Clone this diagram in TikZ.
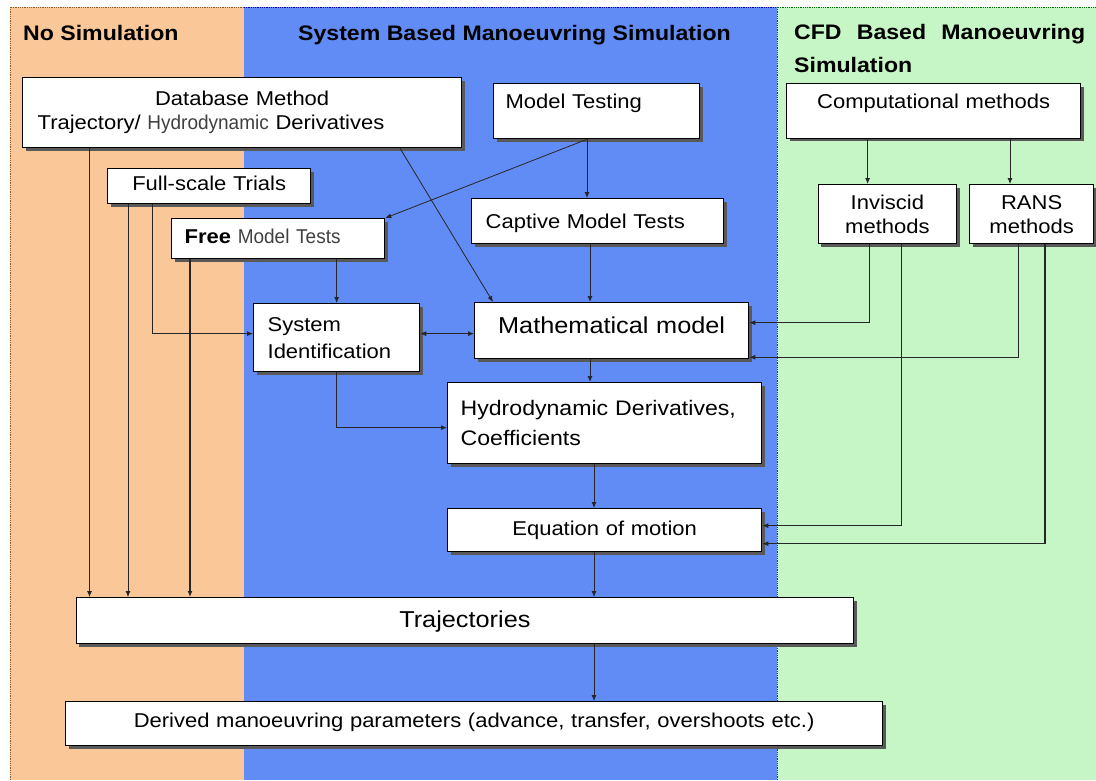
\documentclass[tikz,border=0pt]{standalone}
\usepackage{fontspec}
\setmainfont[FakeStretch=1.1]{Liberation Sans}
\newfontfamily\thinfont[FakeStretch=0.95]{Liberation Sans}
\usetikzlibrary{arrows.meta,shadows}

\definecolor{nosimcol}{RGB}{250,200,152}
\definecolor{syscol}{RGB}{98,140,245}
\definecolor{cfdcol}{RGB}{198,245,198}

\begin{document}
\begin{tikzpicture}[x=1pt, y=-1pt,
  >={Latex[length=6pt,width=5pt]},
  band/.style={line width=0.8pt, densely dotted},
  title/.style={anchor=base west, inner sep=0pt, font=\fontsize{21}{25}\selectfont\bfseries},
  box/.style={draw=black, line width=1.3pt, fill=white, anchor=north west, inner ysep=0pt,
    font=\fontsize{20}{24}\selectfont, drop shadow={shadow xshift=3pt, shadow yshift=-3pt, fill=black!65, opacity=1}},
  link/.style={line width=0.8pt, draw=black!85}]

\useasboundingbox (0,0) rectangle (1096,780);

% background bands
\fill[nosimcol] (10,7) rectangle (244,780);
\fill[syscol] (244,7) rectangle (777,780);
\fill[cfdcol] (777,7) rectangle (1096,780);
\draw[band, draw=brown!70!black] (10,780) -- (10,7) -- (244,7);
\draw[band, draw=blue!60!black] (244,7) -- (777,7);
\draw[band, draw=green!40!black] (777,780) -- (777,7) -- (1096,7);

\node[title] (nosim) at (23,40) {No Simulation};
\node[title] (sysbased) at (298,40) {System Based Manoeuvring Simulation};
\node[title] (cfdbased) at (794,39) {\makebox[291pt][s]{CFD Based Manoeuvring}};
\node[title] (cfdsim) at (794,72) {Simulation};

% boxes
\node[box, text width=409pt, inner xsep=15pt, minimum height=70pt, align=left] (database) at (22,77)
  {\makebox[409pt]{Database Method}\\Trajectory/ {\thinfont\color{black!75}Hydrodynamic} Derivatives};
\node[box, text width=182pt, inner xsep=12pt, text height=25pt, text depth=30pt, align=left] (modeltest) at (493,83) {Model Testing};
\node[box, text width=274pt, inner xsep=10pt, text height=25pt, text depth=29.5pt, align=center] (comp) at (786,83) {Computational methods};
\node[box, text width=193pt, inner xsep=5pt, text height=22pt, text depth=13pt, align=center] (fullscale) at (107,168) {Full-scale Trials};
\node[box, text width=187pt, inner xsep=13pt, text height=25pt, text depth=15pt, align=left] (free) at (171,218)
  {\textbf{Free} {\thinfont\color{black!75}Model Tests}};
\node[box, text width=224pt, inner xsep=14pt, text height=30pt, text depth=15pt, align=left] (captive) at (471,198) {Captive Model Tests};
\node[box, text width=128.5pt, inner xsep=5pt, minimum height=59pt, align=center] (inviscid) at (817.5,184) {Inviscid\\methods};
\node[box, text width=114pt, inner xsep=5pt, minimum height=59pt, align=center] (rans) at (969,184) {RANS\\methods};
\node[box, text width=138pt, inner xsep=14pt, minimum height=68pt, align=left, font=\fontsize{20}{27}\selectfont] (sysid) at (253,303) {System\\Identification};
\node[box, text width=264pt, inner xsep=5pt, text height=31pt, text depth=25pt, align=center, font=\fontsize{23}{27}\selectfont] (math) at (474,302) {Mathematical model};
\node[box, text width=288pt, inner xsep=13pt, minimum height=81pt, align=left, font=\fontsize{21}{30}\selectfont] (hydro) at (447,382) {Hydrodynamic Derivatives,\\Coefficients};
\node[box, text width=304pt, inner xsep=5pt, text height=27pt, text depth=16pt, align=center] (equation) at (447,508) {Equation of motion};
\node[box, text width=767.5pt, inner xsep=5pt, text height=29.7pt, text depth=16.3pt, align=center, font=\fontsize{23}{27}\selectfont] (traj) at (75.5,597) {Trajectories};
\node[box, text width=807pt, inner xsep=5pt, text height=25.7pt, text depth=18.3pt, align=center] (derived) at (65,701)
  {Derived manoeuvring parameters (advance, transfer, overshoots etc.)};

% connector feet
\coordinate (dbA) at ([xshift=67.5pt]database.south west);
\coordinate (dbB) at ([xshift=378pt]database.south west);
\coordinate (fsA) at ([xshift=21pt]fullscale.south west);
\coordinate (fsB) at ([xshift=45pt]fullscale.south west);
\coordinate (frA) at ([xshift=19pt]free.south west);
\coordinate (mtA) at ([xshift=94pt]modeltest.south west);
\coordinate (cpA) at ([xshift=119pt]captive.south west);
\coordinate (mmA) at ([xshift=116pt]math.south west);
\coordinate (hyA) at ([xshift=147pt]hydro.south west);
\coordinate (eqA) at ([xshift=147pt]equation.south west);
\coordinate (trA) at ([xshift=518.5pt]traj.south west);
\coordinate (cmA) at ([xshift=81.6pt]comp.south west);
\coordinate (cmB) at ([xshift=224pt]comp.south west);
\coordinate (ivA) at ([xshift=51.5pt]inviscid.south west);
\coordinate (ivB) at ([xshift=83.5pt]inviscid.south west);
\coordinate (rsA) at ([xshift=49pt]rans.south west);
\coordinate (rsB) at ([xshift=76pt]rans.south west);
\coordinate (sysR) at ([yshift=4pt]sysid.east);

% connectors
\draw[link, ->] (dbA) -- (dbA |- traj.north);
\draw[link, ->] (fsA) -- (fsA |- traj.north);
\draw[link, ->, line width=1.5pt] (frA) -- (frA |- traj.north);
\draw[link, ->] (fsB) |- ([yshift=4pt]sysid.west);
\draw[link, ->] (sysid.north |- free.south) -- (sysid.north);
\draw[link, ->] (mtA) -- (free.north east);
\draw[link, ->] (mtA) -- (mtA |- captive.north);
\draw[link, ->] (dbB) -- ([xshift=19pt]math.north west);
\draw[link, ->] (cpA) -- (cpA |- math.north);
\draw[link, <->] (sysR) -- (sysR -| math.west);
\draw[link, ->] (sysid.south) |- ([yshift=-4.5pt]hydro.west);
\draw[link, ->] (mmA) -- (mmA |- hydro.north);
\draw[link, ->] (hyA) -- (hyA |- equation.north);
\draw[link, ->] (eqA) -- (eqA |- traj.north);
\draw[link, ->] (trA) -- (trA |- derived.north);
\draw[link, ->] (cmA) -- (cmA |- inviscid.north);
\draw[link, ->] (cmB) -- (cmB |- rans.north);
\draw[link, ->] (ivA) |- ([yshift=8pt]math.east);
\draw[link, ->] (ivB) |- ([yshift=4.5pt]equation.east);
\draw[link, ->] (rsA) |- ([yshift=2pt]math.south east);
\draw[link, ->, line width=1.5pt] (rsB) |- ([yshift=-13.5pt]equation.east);
\end{tikzpicture}
\end{document}
